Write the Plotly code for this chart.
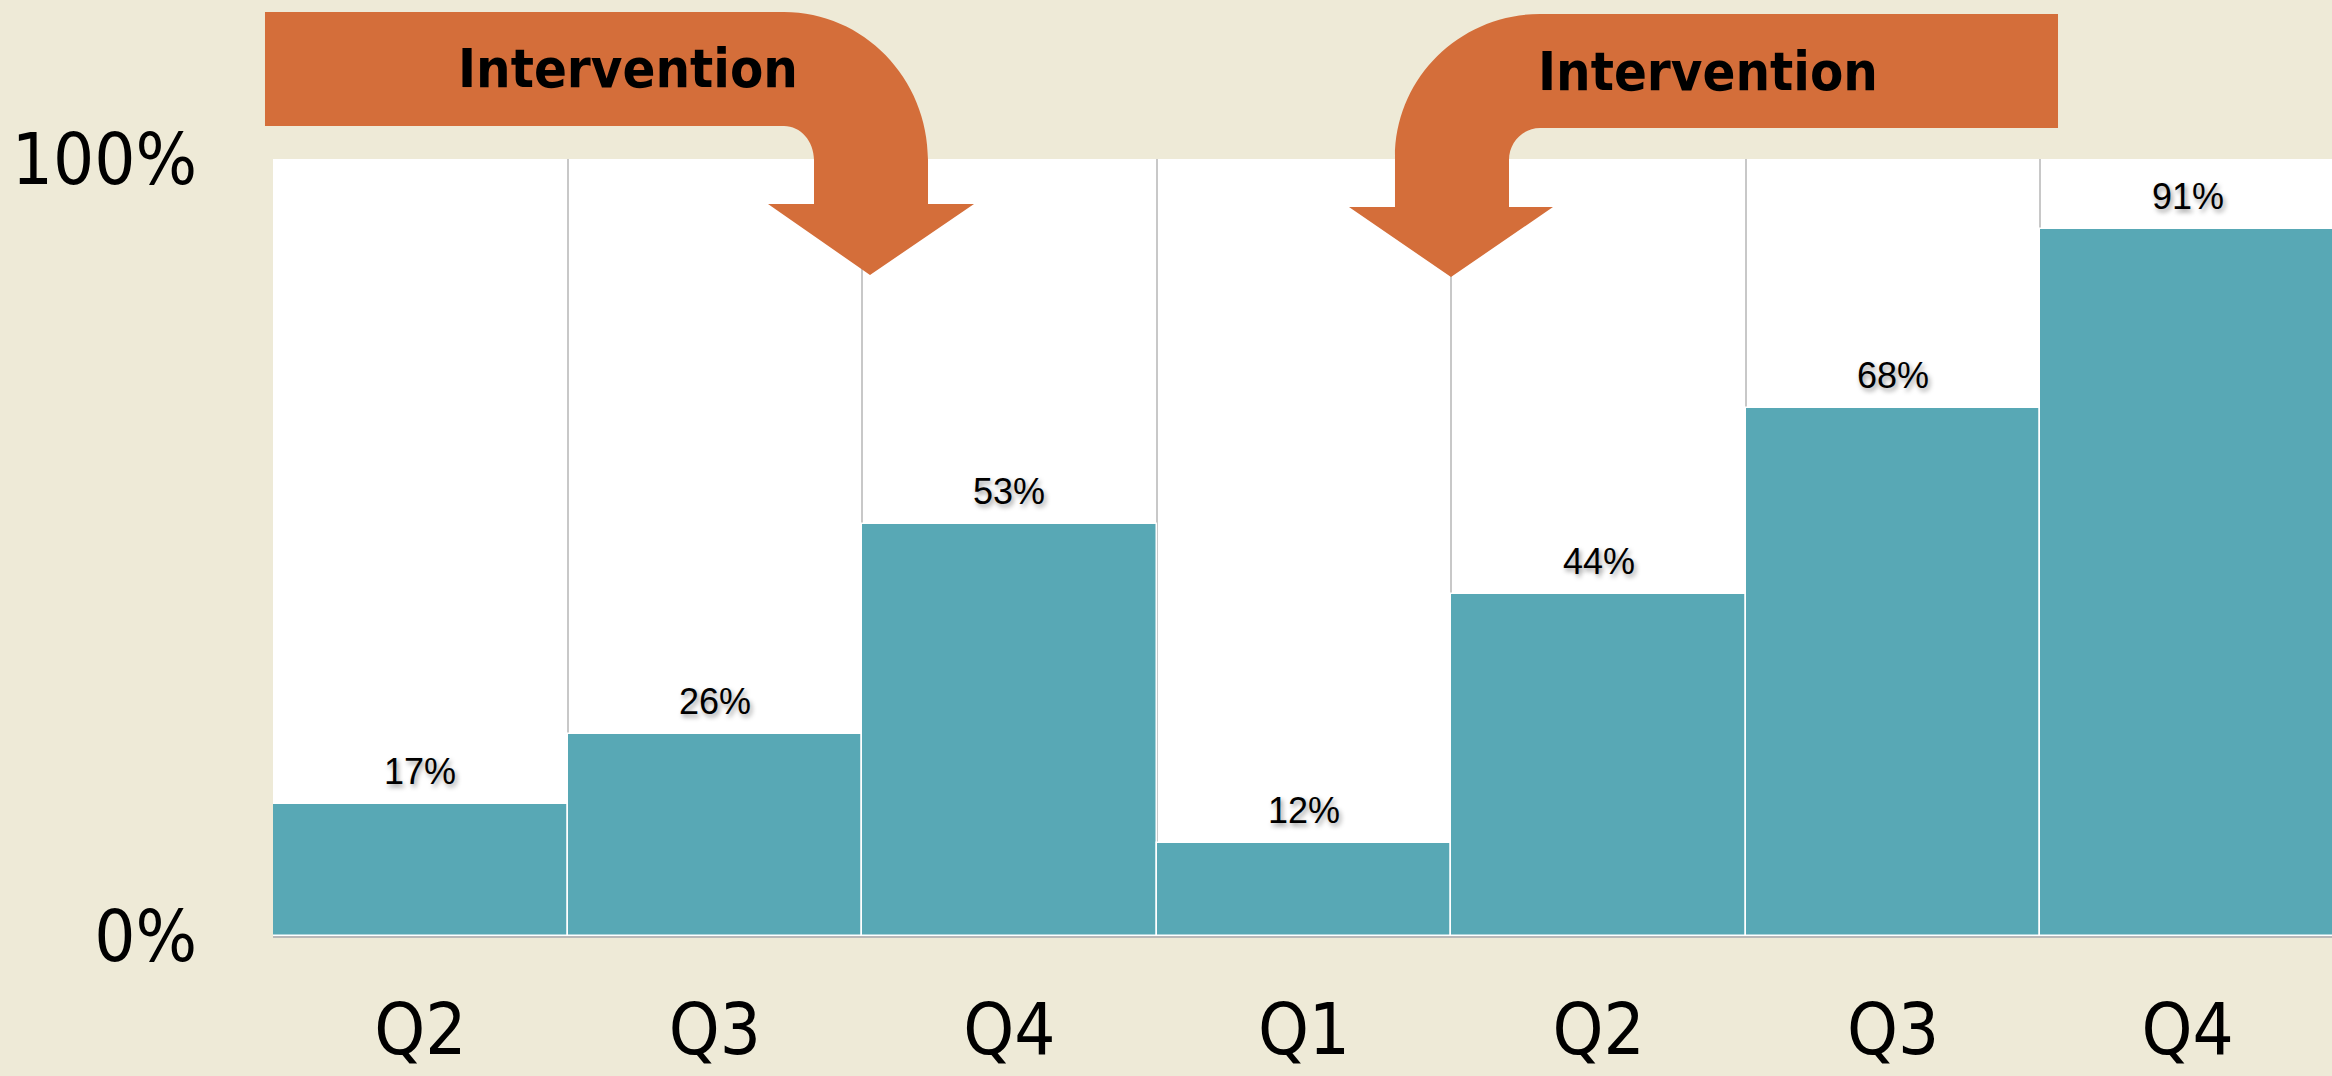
import plotly.graph_objects as go

# quarter labels and share reached (%)
quarters = ["Q2", "Q3", "Q4", "Q1", "Q2", "Q3", "Q4"]
values = [17, 26, 53, 12, 44, 68, 91]
ytick_vals = [0, 100]
ytick_text = ["0%", "100%"]
arrow_text = "Intervention"

W, H = 2332, 1076
L, T, B = 273, 159, 140
bar_color = "#58a8b5"
arrow_color = "#d46e3a"
narrow = "Liberation Sans Narrow, Arial Narrow, DejaVu Sans Condensed, sans-serif"

xpos = list(range(len(quarters)))

fig = go.Figure()
fig.add_trace(go.Bar(
    x=xpos, y=values,
    marker=dict(color=bar_color, line=dict(color="white", width=1.5)),
    hoverinfo="skip",
))

# value labels above each bar
for xv, v in zip(xpos, values):
    fig.add_annotation(
        x=xv, y=v, text=f"{v}%", showarrow=False,
        yanchor="bottom", yshift=10,
        font=dict(family="Liberation Sans, Arial, sans-serif", size=36, color="black",
                  shadow="2px 3px 5px rgba(0,0,0,0.4)"),
    )

# helpers: pixel -> paper coords for the decorative arrows
pw = W - L
ph = H - T - B
def px(x):
    return (x - L) / pw
def py(y):
    return (H - B - y) / ph

def path(cmds):
    out = []
    for c in cmds:
        if isinstance(c, str):
            out.append(c)
        else:
            out.append(f"{px(c[0]):.5f},{py(c[1]):.5f}")
    return " ".join(out)

k = 0.552
# left arrow (bends down to the right)
left_arrow = path([
    "M", (265, 12), "L", (784, 12),
    "C", (784 + 144 * k, 12), (928, 160 - 148 * k), (928, 160),
    "L", (928, 204), "L", (974, 204), "L", (870, 275), "L", (768, 204),
    "L", (814, 204), "L", (814, 160),
    "C", (814, 160 - 34 * k), (784 + 30 * k, 126), (784, 126),
    "L", (265, 126), "Z",
])
# right arrow (bends down to the left)
right_arrow = path([
    "M", (2058, 14), "L", (1540, 14),
    "C", (1540 - 145 * k, 14), (1395, 157 - 143 * k), (1395, 157),
    "L", (1395, 207), "L", (1349, 207), "L", (1451, 277), "L", (1553, 207),
    "L", (1509, 207), "L", (1509, 160),
    "C", (1509, 160 - 32 * k), (1540 - 31 * k, 128), (1540, 128),
    "L", (2058, 128), "Z",
])
for p in (left_arrow, right_arrow):
    fig.add_shape(type="path", path=p, xref="paper", yref="paper",
                  fillcolor=arrow_color, line=dict(width=0), layer="above")

for cx, cy in ((628, 68), (1708, 71)):
    fig.add_annotation(
        x=px(cx), y=py(cy), xref="paper", yref="paper", text=arrow_text,
        showarrow=False, xanchor="center", yanchor="middle",
        font=dict(family=narrow, size=54, color="black", weight="bold"),
    )

fig.update_layout(
    width=W, height=H,
    margin=dict(l=L, r=0, t=T, b=B, pad=0),
    paper_bgcolor="#eeead7",
    plot_bgcolor="white",
    bargap=0,
    showlegend=False,
    xaxis=dict(
        range=[-0.5, len(quarters) - 0.51],
        tickmode="array", tickvals=xpos, ticktext=quarters,
        tickfont=dict(family=narrow, size=72, color="black"),
        ticklabelstandoff=30,
        showgrid=False, zeroline=False, automargin=False,
        showline=True, linecolor="#b8b8b8", linewidth=2,
        minor=dict(tick0=0.5, dtick=1, showgrid=True, gridcolor="#c8c8c8",
                   gridwidth=1.5, ticks=""),
        fixedrange=True,
    ),
    yaxis=dict(
        range=[0, 100],
        tickmode="array", tickvals=ytick_vals, ticktext=ytick_text,
        tickfont=dict(family=narrow, size=72, color="black"),
        ticklabelstandoff=75,
        showgrid=True, gridcolor="#acacac", gridwidth=2,
        zeroline=False, showline=False, automargin=False,
        fixedrange=True,
    ),
)

fig.write_html("out.html", config={"displayModeBar": False},
               post_script="document.body.style.margin='0';document.body.style.overflow='hidden';")
